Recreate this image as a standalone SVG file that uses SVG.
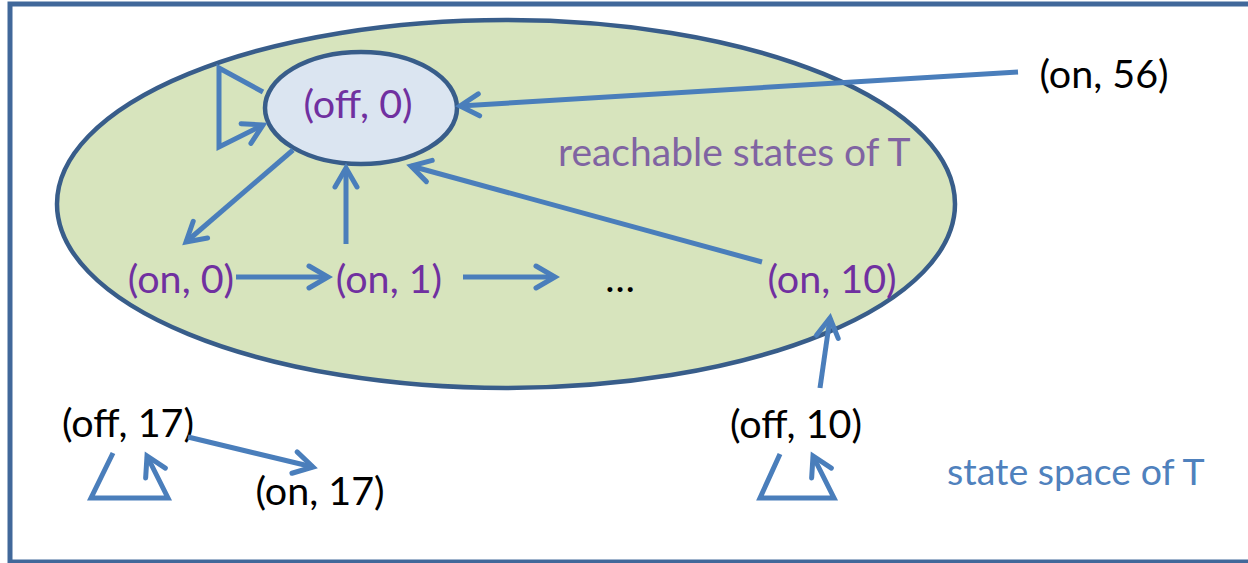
<svg xmlns="http://www.w3.org/2000/svg" width="1248" height="563" viewBox="0 0 1248 563">
<style>
.lbl{font-family:Lato,"Open Sans",sans-serif;font-size:39.5px;text-anchor:middle}
.p{fill:#7030a0}
.k{fill:#000000}
.e{fill:none;stroke:#4a7ebb;stroke-width:5;stroke-linecap:butt;stroke-linejoin:miter;marker-end:url(#ah)}
</style>
<defs>
<marker id="ah" markerUnits="userSpaceOnUse" markerWidth="40" markerHeight="40" viewBox="-25 -20 30 40" refX="0" refY="0" orient="auto">
<path d="M-19,-11 L0,0 L-19,11" fill="none" stroke="#4a7ebb" stroke-width="5" stroke-linecap="round" stroke-linejoin="miter"/>
</marker>
</defs>
<rect x="0" y="0" width="1248" height="563" fill="#ffffff"/>
<rect id="statespace" x="10" y="4" width="1250" height="558" fill="none" stroke="#41689a" stroke-width="5"/>
<g id="reachable">
<ellipse cx="506" cy="204" rx="449" ry="184" fill="#d7e4bd" stroke="#385d8a" stroke-width="4.5"/>
<text x="558" y="166" style="font-family:Lato,'Open Sans',sans-serif;font-size:39px;fill:#8064a2">reachable states of T</text>
</g>
<g id="off0">
<ellipse cx="361" cy="108" rx="96" ry="56" fill="#dbe5f1" stroke="#385d8a" stroke-width="4.5"/>
<text class="lbl p" x="358" y="118">(off, 0)</text>
</g>
<g id="on0"><text class="lbl p" x="181" y="293">(on, 0)</text></g>
<g id="on1"><text class="lbl p" x="389" y="293">(on, 1)</text></g>
<g id="dots"><text class="lbl k" x="620" y="292">…</text></g>
<g id="on10"><text class="lbl p" x="832" y="293">(on, 10)</text></g>
<g id="on56"><text class="lbl k" x="1104" y="88">(on, 56)</text></g>
<g id="off17"><text class="lbl k" x="128" y="437">(off, 17)</text></g>
<g id="on17"><text class="lbl k" x="320" y="505">(on, 17)</text></g>
<g id="off10"><text class="lbl k" x="796" y="438">(off, 10)</text></g>
<g id="label-statespace"><text x="947" y="485" style="font-family:Lato,'Open Sans',sans-serif;font-size:37.5px;fill:#4f81bd">state space of T</text></g>
<g id="connectors">
<polyline class="e" points="263,92 219,68 219,147 263,125"/>
<line class="e" x1="293" y1="150" x2="186" y2="242"/>
<line class="e" x1="346" y1="244" x2="346" y2="168"/>
<line class="e" x1="236" y1="277" x2="328" y2="277"/>
<line class="e" x1="463" y1="277" x2="555" y2="277"/>
<line class="e" x1="762" y1="262" x2="411" y2="166"/>
<line class="e" x1="1018" y1="72" x2="460" y2="106"/>
<line class="e" x1="820" y1="388" x2="830" y2="318"/>
<polyline class="e" points="113,453 91,498 168,498 147,456"/>
<line class="e" x1="188" y1="437" x2="313" y2="467"/>
<polyline class="e" points="780,454 760,498 834,498 813,456"/>
</g>
</svg>
